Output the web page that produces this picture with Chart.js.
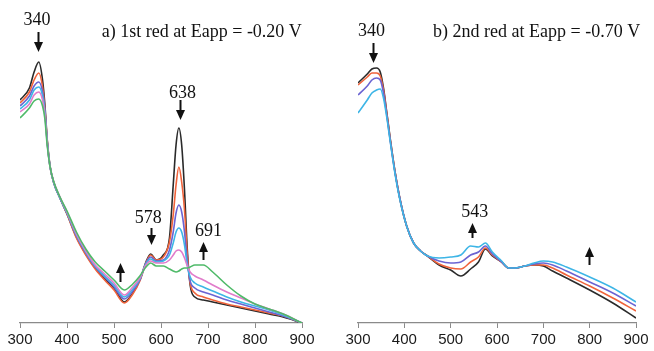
<!DOCTYPE html>
<html>
<head>
<meta charset="utf-8">
<script src="https://cdn.jsdelivr.net/npm/chart.js@4.4.1/dist/chart.umd.min.js"></script>
<style>
  html, body { margin: 0; padding: 0; background: #fff; }
  #wrap { position: relative; width: 654px; height: 351px; overflow: hidden; }
  canvas { position: absolute; top: 0; }
</style>
</head>
<body>
<div id="wrap">
  <canvas id="chartA" width="327" height="351" style="left:0;width:327px;height:351px"></canvas>
  <canvas id="chartB" width="327" height="351" style="left:327px;width:327px;height:351px"></canvas>
</div>
<script>
// wavelength (nm) grid and absorbance (a.u.) per spectrum

const xTicks = [300, 400, 500, 600, 700, 800, 900]

// a) 1st reduction at -0.20 V
const nmA = [300, 320, 330, 340, 348, 353, 358, 364, 372, 385, 400, 420, 440, 460, 480, 500, 522, 540, 555, 568, 578,
    590, 605, 618, 626, 632, 638, 644, 650, 656, 662, 672, 690, 710, 740, 770, 800, 830, 860, 900]
const aBlack = [2.23, 2.35, 2.51, 2.61, 2.43, 2.18, 1.83, 1.57, 1.40, 1.25, 1.09, 0.86, 0.69, 0.55, 0.44, 0.35, 0.21, 0.30, 0.43, 0.61, 0.69,
    0.63, 0.68, 0.85, 1.38, 1.78, 1.95, 1.78, 1.33, 0.73, 0.38, 0.26, 0.23, 0.21, 0.18, 0.15, 0.12, 0.09, 0.06, 0.00]
const aOrange = [2.20, 2.31, 2.43, 2.50, 2.36, 2.14, 1.82, 1.56, 1.40, 1.25, 1.09, 0.85, 0.68, 0.54, 0.43, 0.33, 0.20, 0.29, 0.42, 0.60, 0.68,
    0.63, 0.66, 0.81, 1.08, 1.38, 1.56, 1.41, 1.13, 0.68, 0.40, 0.30, 0.26, 0.23, 0.19, 0.16, 0.13, 0.10, 0.07, 0.00]
const aPurple = [2.17, 2.27, 2.37, 2.41, 2.31, 2.12, 1.81, 1.56, 1.40, 1.25, 1.10, 0.87, 0.70, 0.56, 0.46, 0.36, 0.24, 0.32, 0.43, 0.60, 0.66,
    0.62, 0.63, 0.73, 0.91, 1.10, 1.18, 1.11, 0.91, 0.61, 0.42, 0.35, 0.31, 0.28, 0.23, 0.19, 0.15, 0.11, 0.07, 0.00]
const aCyan = [2.14, 2.23, 2.33, 2.36, 2.27, 2.10, 1.80, 1.56, 1.40, 1.25, 1.10, 0.88, 0.71, 0.57, 0.47, 0.38, 0.26, 0.34, 0.44, 0.59, 0.64,
    0.61, 0.62, 0.68, 0.80, 0.91, 0.95, 0.91, 0.78, 0.58, 0.46, 0.40, 0.36, 0.32, 0.26, 0.21, 0.17, 0.13, 0.08, 0.00]
const aPink = [2.11, 2.19, 2.28, 2.31, 2.23, 2.08, 1.79, 1.56, 1.41, 1.26, 1.11, 0.89, 0.72, 0.58, 0.49, 0.40, 0.28, 0.36, 0.45, 0.58, 0.62,
    0.60, 0.60, 0.63, 0.68, 0.72, 0.73, 0.71, 0.65, 0.57, 0.51, 0.47, 0.43, 0.38, 0.31, 0.25, 0.19, 0.14, 0.09, 0.00]
const aGreen = [2.05, 2.15, 2.22, 2.24, 2.17, 2.04, 1.77, 1.56, 1.41, 1.26, 1.12, 0.91, 0.74, 0.61, 0.52, 0.43, 0.33, 0.39, 0.47, 0.56, 0.60,
    0.57, 0.57, 0.54, 0.52, 0.51, 0.52, 0.54, 0.55, 0.55, 0.56, 0.58, 0.58, 0.51, 0.38, 0.27, 0.19, 0.14, 0.09, 0.00]

// b) 2nd reduction at -0.70 V
const nmB = [300, 320, 330, 340, 348, 355, 362, 370, 380, 391, 405, 420, 435, 450, 475, 500, 522, 543, 560, 575,
    590, 610, 625, 640, 660, 680, 700, 720, 750, 800, 850, 900]
const bBlack = [2.40, 2.49, 2.54, 2.55, 2.51, 2.35, 2.11, 1.83, 1.51, 1.23, 0.97, 0.80, 0.72, 0.67, 0.58, 0.53, 0.47, 0.54, 0.61, 0.74,
    0.67, 0.61, 0.55, 0.55, 0.57, 0.58, 0.57, 0.52, 0.45, 0.33, 0.20, 0.05]
const bOrange = [2.38, 2.46, 2.50, 2.50, 2.47, 2.33, 2.10, 1.82, 1.51, 1.23, 0.97, 0.80, 0.72, 0.67, 0.59, 0.55, 0.54, 0.61, 0.66, 0.75,
    0.68, 0.61, 0.55, 0.55, 0.57, 0.58, 0.58, 0.55, 0.48, 0.37, 0.25, 0.12]
const bPurple = [2.28, 2.37, 2.43, 2.45, 2.43, 2.30, 2.08, 1.81, 1.50, 1.23, 0.97, 0.80, 0.72, 0.67, 0.62, 0.60, 0.61, 0.68, 0.71, 0.77,
    0.69, 0.61, 0.55, 0.55, 0.57, 0.59, 0.60, 0.58, 0.52, 0.41, 0.30, 0.17]
const bCyan = [2.10, 2.23, 2.30, 2.33, 2.34, 2.25, 2.06, 1.80, 1.49, 1.22, 0.97, 0.80, 0.72, 0.67, 0.65, 0.66, 0.68, 0.77, 0.76, 0.80,
    0.71, 0.62, 0.55, 0.55, 0.57, 0.60, 0.62, 0.61, 0.56, 0.46, 0.35, 0.21]

const colors = {
    black: '#2a2a2a',
    orange: '#f0633b',
    purple: '#6b64d2',
    cyan: '#3db5e6',
    pink: '#e07ccb',
    green: '#4fba69'
}

const serif = "'Liberation Serif', 'Times New Roman', serif"
const sans = "'Liberation Sans', Arial, sans-serif"

// labels / arrows in data space (nm, absorbance)
const notesA = {
    title: {text: 'a) 1st red at Eapp = -0.20 V', x: 474, y: 2.91},
    labels: [
        {text: '340', x: 336, y: 3.03},
        {text: '638', x: 646, y: 2.30},
        {text: '578', x: 573, y: 1.045},
        {text: '691', x: 701, y: 0.92}
    ],
    arrows: [
        {x: 338, from: 2.91, to: 2.71},
        {x: 641, from: 2.23, to: 2.03},
        {x: 579, from: 0.95, to: 0.78},
        {x: 689, from: 0.63, to: 0.81},
        {x: 513, from: 0.41, to: 0.60}
    ]
}
const notesB = {
    title: {text: 'b) 2nd red at Eapp = -0.70 V', x: 462, y: 2.91},
    labels: [
        {text: '340', x: 329, y: 2.92},
        {text: '543', x: 552, y: 1.11}
    ],
    arrows: [
        {x: 332, from: 2.80, to: 2.60},
        {x: 546, from: 0.85, to: 1.00},
        {x: 799, from: 0.58, to: 0.76}
    ]
}

const notesPlugin = {
    id: 'notes',
    afterDraw(chart, args, opts) {
        const ctx = chart.ctx
        const xs = chart.scales.x
        const ys = chart.scales.y
        ctx.save()
        ctx.fillStyle = '#111'
        ctx.strokeStyle = '#111'
        if (opts.title) {
            ctx.font = '18px ' + serif
            ctx.textAlign = 'left'
            ctx.textBaseline = 'middle'
            ctx.fillText(opts.title.text, xs.getPixelForValue(opts.title.x), ys.getPixelForValue(opts.title.y))
        }
        ctx.font = '18px ' + serif
        ctx.textAlign = 'center'
        ctx.textBaseline = 'middle'
        ;(opts.labels || []).forEach(l => {
            ctx.fillText(l.text, xs.getPixelForValue(l.x), ys.getPixelForValue(l.y))
        })
        ;(opts.arrows || []).forEach(a => {
            const x = Math.round(xs.getPixelForValue(a.x)) + 0.5
            const y0 = ys.getPixelForValue(a.from)
            const y1 = ys.getPixelForValue(a.to)
            const dir = y1 > y0 ? 1 : -1
            const head = 10
            ctx.lineWidth = 2
            ctx.beginPath()
            ctx.moveTo(x, y0)
            ctx.lineTo(x, y1 - dir * head)
            ctx.stroke()
            ctx.beginPath()
            ctx.moveTo(x - 4.5, y1 - dir * head)
            ctx.lineTo(x + 4.5, y1 - dir * head)
            ctx.lineTo(x, y1)
            ctx.closePath()
            ctx.fill()
        })
        ctx.restore()
    }
}

function makeSet(label, nm, values, color) {
    return {
        label: label,
        data: nm.map((x, i) => ({x: x, y: values[i]})),
        borderColor: color,
        borderWidth: 1.6,
        pointRadius: 0,
        fill: false,
        cubicInterpolationMode: 'monotone'
    }
}

function buildChart(canvas, datasets, notes) {
    return new Chart(canvas, {
        type: 'line',
        data: {datasets: datasets},
        plugins: [notesPlugin],
        options: {
            responsive: false,
            animation: false,
            layout: {padding: {left: 20, right: 20, top: 43, bottom: 10}},
            plugins: {
                legend: {display: false},
                tooltip: {enabled: false},
                notes: notes
            },
            scales: {
                x: {
                    type: 'linear',
                    min: 300,
                    max: 900,
                    afterBuildTicks: (axis) => {
                        axis.ticks = xTicks.map(v => ({value: v}))
                    },
                    grid: {
                        drawOnChartArea: false,
                        drawTicks: true,
                        tickLength: 5,
                        color: '#8a8a8a'
                    },
                    border: {display: true, color: '#8a8a8a', width: 1.2},
                    ticks: {
                        color: '#1a1a1a',
                        font: {family: sans, size: 15},
                        padding: 3,
                        maxRotation: 0,
                        autoSkip: false
                    }
                },
                y: {
                    display: false,
                    min: 0,
                    max: 2.8
                }
            }
        }
    })
}

// nudge padding so the plot area lands where the reference has it
function fitArea(chart, left, right, top, bottom) {
    const ca = chart.chartArea
    const p = chart.options.layout.padding
    p.left += left - ca.left
    p.right += ca.right - right
    p.top += top - ca.top
    p.bottom += ca.bottom - bottom
    chart.update('none')
}

const chartA = buildChart(document.getElementById('chartA'), [
    makeSet('green', nmA, aGreen, colors.green),
    makeSet('pink', nmA, aPink, colors.pink),
    makeSet('cyan', nmA, aCyan, colors.cyan),
    makeSet('purple', nmA, aPurple, colors.purple),
    makeSet('orange', nmA, aOrange, colors.orange),
    makeSet('black', nmA, aBlack, colors.black)
], notesA)

const chartB = buildChart(document.getElementById('chartB'), [
    makeSet('cyan', nmB, bCyan, colors.cyan),
    makeSet('purple', nmB, bPurple, colors.purple),
    makeSet('orange', nmB, bOrange, colors.orange),
    makeSet('black', nmB, bBlack, colors.black)
], notesB)

fitArea(chartA, 20, 302, 43, 323)
fitArea(chartB, 31, 309, 43, 323)
</script>
</body>
</html>
